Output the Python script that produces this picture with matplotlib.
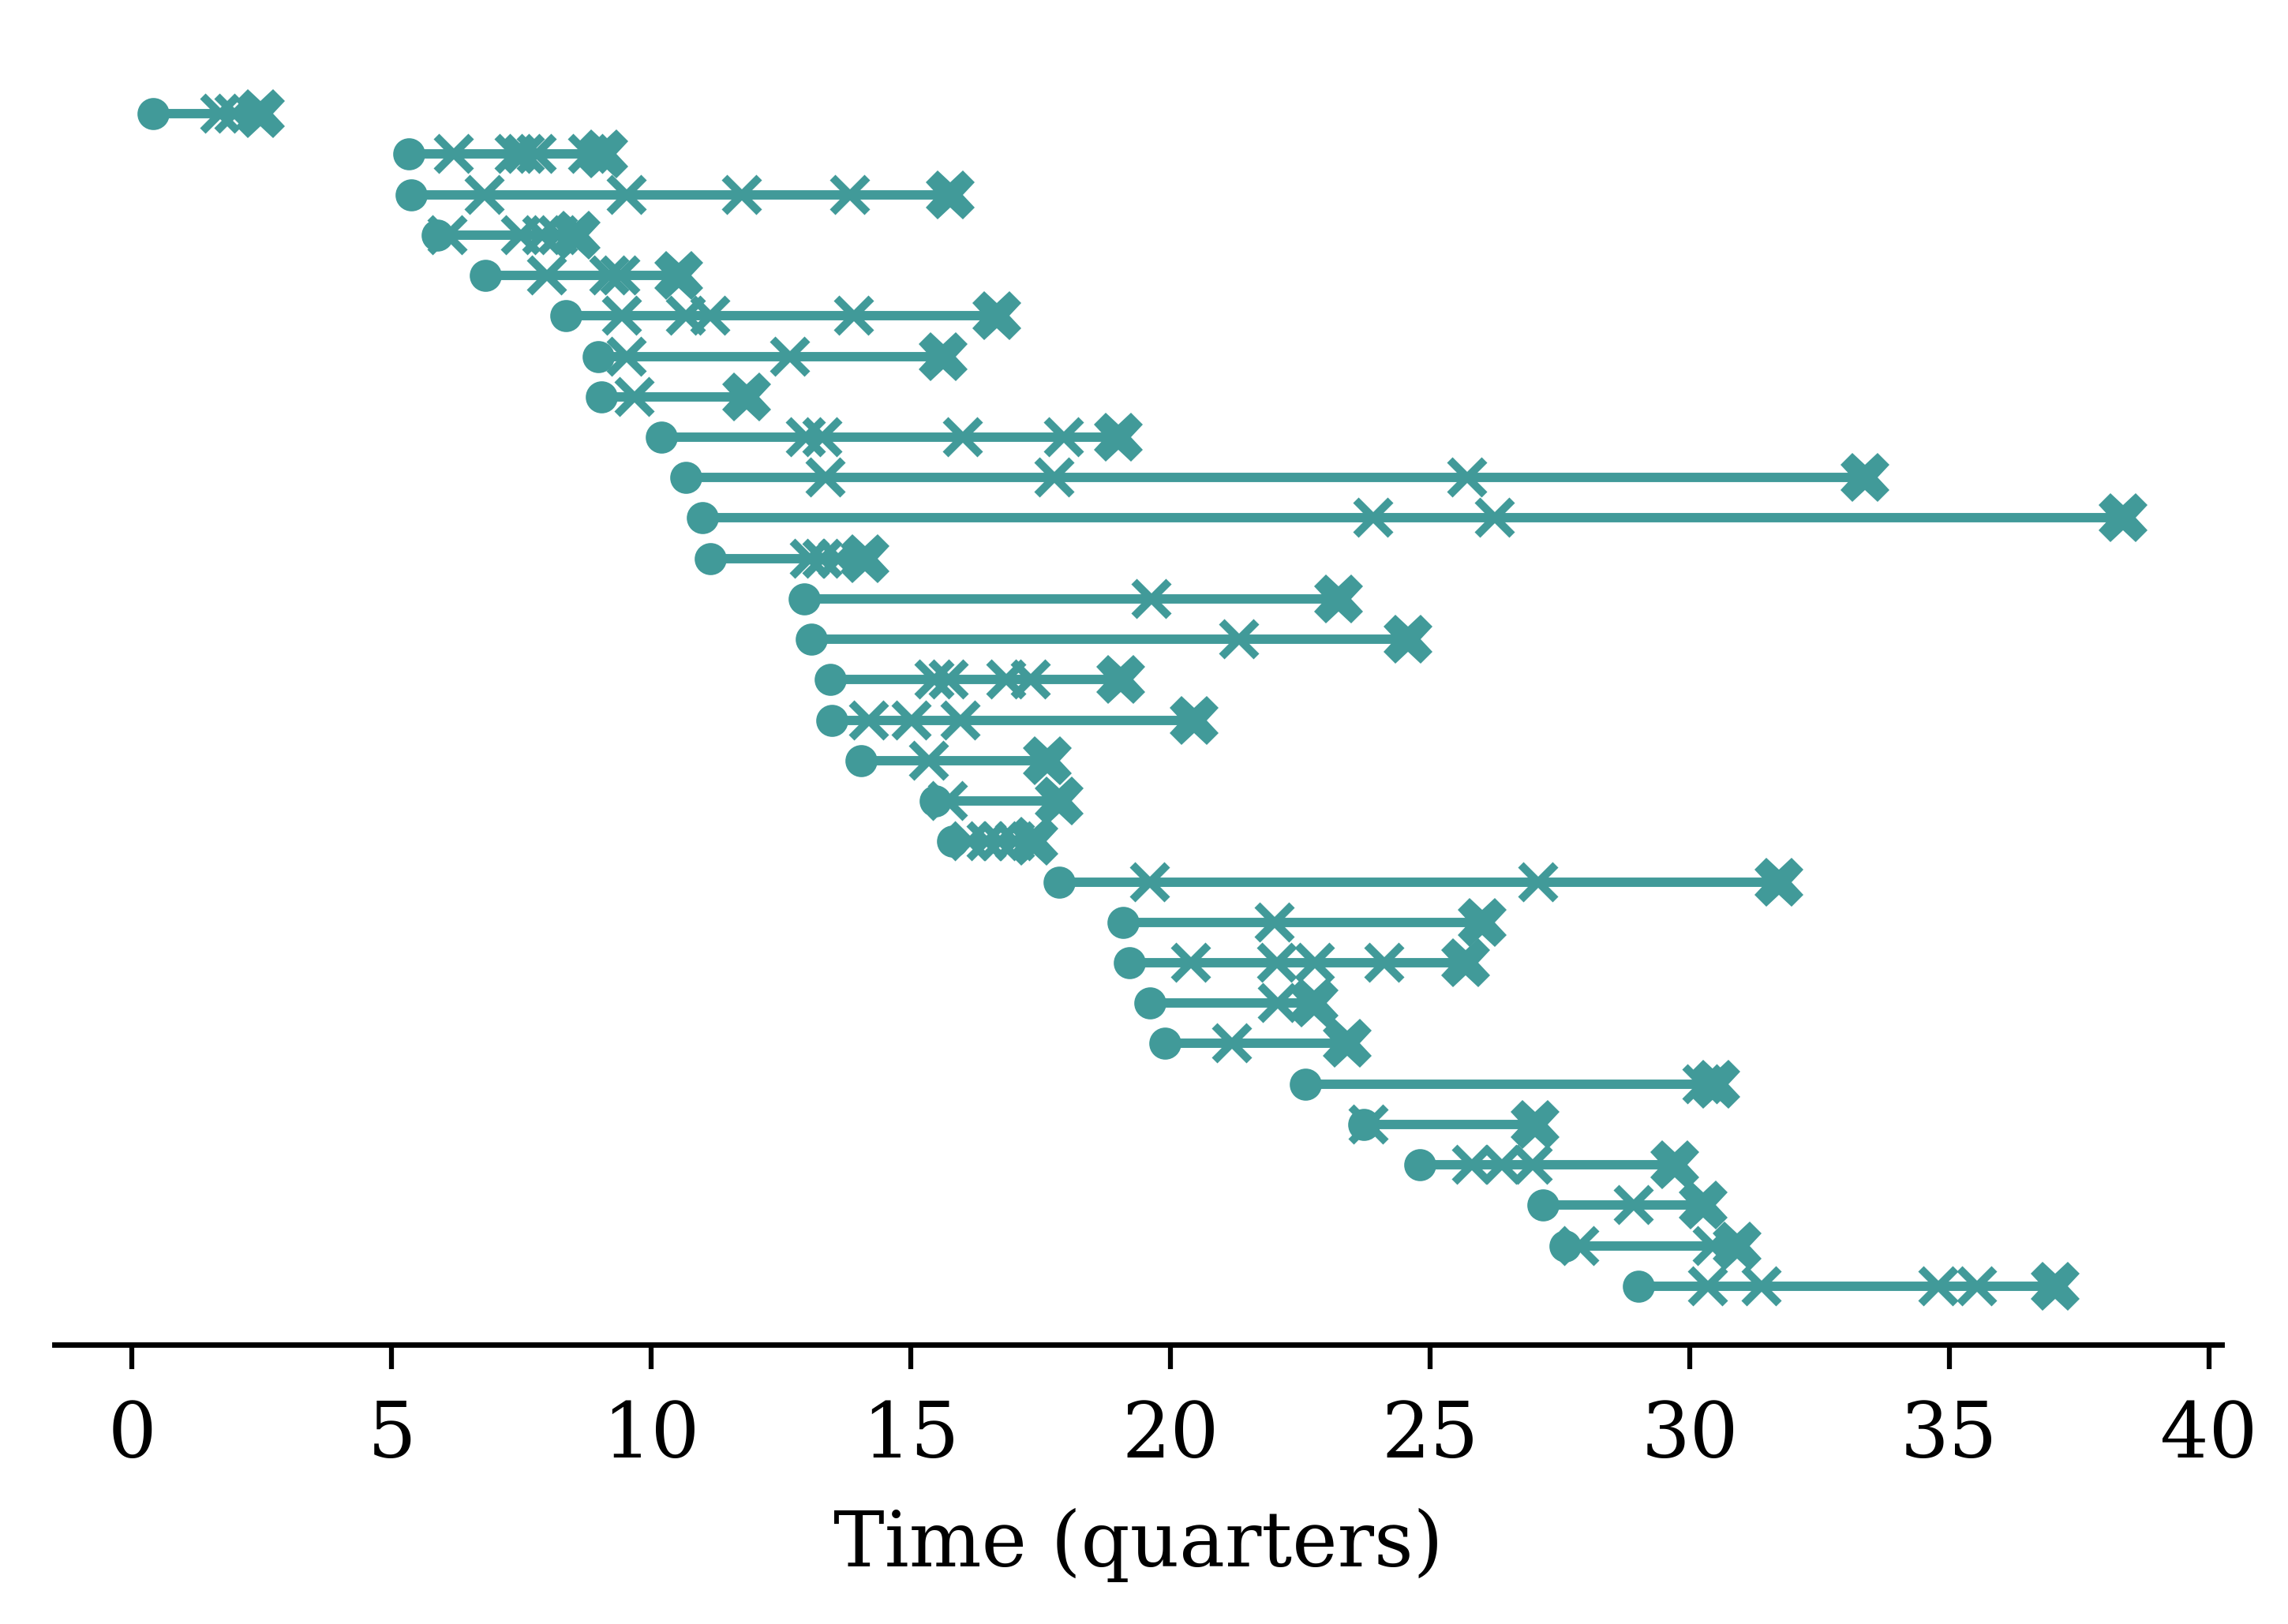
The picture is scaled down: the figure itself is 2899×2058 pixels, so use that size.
import numpy as np
import matplotlib
matplotlib.use("Agg")
import matplotlib.pyplot as plt

plt.rcParams['font.family'] = ['DejaVu Serif']
plt.rcParams['font.size'] = 15.5

# start of each episode (dot), intermediate events (x) and end (big X), in quarters
starts = [0.40, 5.33, 5.38, 5.88, 6.80, 8.36, 8.97, 9.04, 10.20, 10.67,
          10.99, 11.13, 12.95, 13.08, 13.45, 13.47, 14.04, 15.47, 15.80, 17.86,
          19.09, 19.21, 19.60, 19.90, 22.60, 23.72, 24.80, 27.17, 27.60, 29.02]

events = [[1.70, 1.97],
          [6.20, 7.36, 7.57, 7.79, 8.78],
          [6.79, 9.53, 11.74, 13.83],
          [6.07, 7.49, 7.90, 8.20],
          [7.99, 9.19, 9.40],
          [9.44, 10.67, 11.14, 13.90],
          [9.53, 12.67],
          [9.68],
          [12.98, 13.30, 16.00, 17.94],
          [13.35, 17.76, 25.71],
          [23.91, 26.25],
          [13.05, 13.30, 13.60],
          [19.63],
          [21.32],
          [15.45, 15.73, 16.83, 17.31],
          [14.19, 15.01, 15.96],
          [15.35],
          [15.71],
          [16.14, 16.45, 16.72, 17.00],
          [19.61, 27.09],
          [22.01],
          [20.40, 22.05, 22.78, 24.12],
          [22.06],
          [21.19],
          [30.24],
          [23.82],
          [25.80, 26.38, 26.97],
          [28.92],
          [27.87, 30.44],
          [30.35, 31.38, 34.79, 35.53]]

ends = [2.47, 9.08, 15.75, 8.55, 10.53, 16.65, 15.62, 11.84, 18.99, 33.37,
        38.35, 14.11, 23.23, 24.57, 19.04, 20.46, 17.63, 17.86, 17.37, 31.72,
        26.01, 25.69, 22.77, 23.41, 30.51, 27.03, 29.72, 30.26, 30.91, 37.04]

col = '#419a99'

fig = plt.figure(figsize=(2899 / 450, 2058 / 450), dpi=450)
ax = fig.add_axes([0.0238, 0.172, 0.9472, 0.794])

for i in range(len(starts)):
    ax.plot([starts[i], ends[i]], [i, i], color=col, lw=1.9, zorder=1)
    ax.plot(starts[i], i, 'o', color=col, ms=5.5, zorder=2)
    ax.plot(events[i], [i] * len(events[i]), 'x', color=col, ms=7, mew=1.6, zorder=3)
    ax.plot(ends[i], i, 'X', color=col, ms=10, mew=0, zorder=4)

ax.invert_yaxis()
ax.set_yticks([])
for s in ['left', 'top', 'right']:
    ax.spines[s].set_visible(False)
ax.spines['bottom'].set_linewidth(1.1)
ax.tick_params(axis='x', length=5, width=1.0, pad=6)
ax.set_xticks(np.arange(0, 41, 5))
ax.set_xlabel('Time (quarters)', labelpad=7)

fig.savefig('out.png', dpi=450)
